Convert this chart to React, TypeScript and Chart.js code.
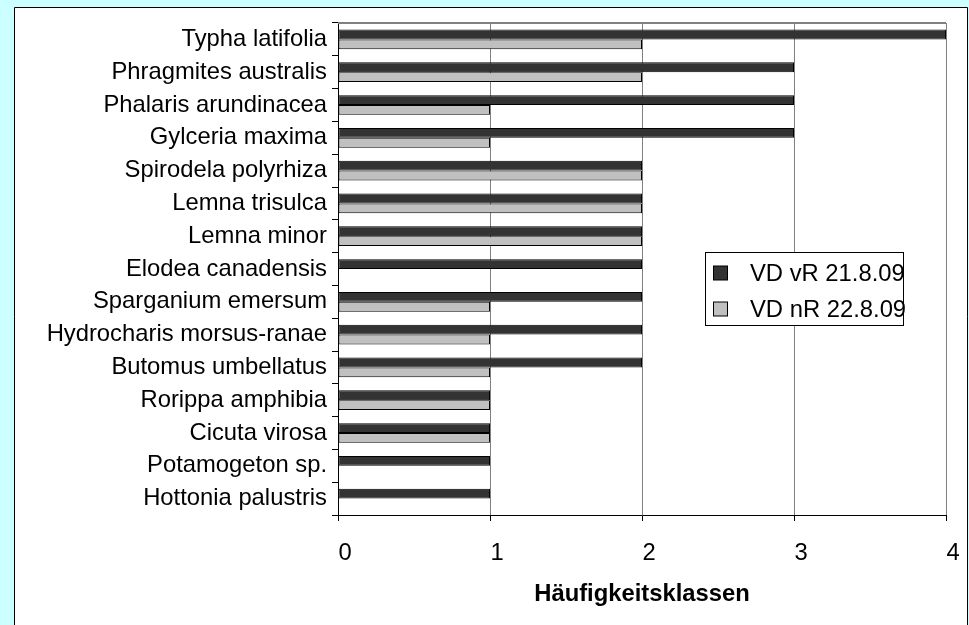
import React, { useEffect, useRef } from "react";
import { Chart, registerables } from "chart.js";

Chart.register(...registerables);

const categories = [
  "Typha latifolia",
  "Phragmites australis",
  "Phalaris arundinacea",
  "Gylceria maxima",
  "Spirodela polyrhiza",
  "Lemna trisulca",
  "Lemna minor",
  "Elodea canadensis",
  "Sparganium emersum",
  "Hydrocharis morsus-ranae",
  "Butomus umbellatus",
  "Rorippa amphibia",
  "Cicuta virosa",
  "Potamogeton sp.",
  "Hottonia palustris",
];

const seriesVR = [4, 3, 3, 3, 2, 2, 2, 2, 2, 2, 2, 1, 1, 1, 1];
const seriesNR = [2, 2, 1, 1, 2, 2, 2, 0, 1, 1, 1, 1, 1, 0, 0];

const seriesNames = ["VD vR 21.8.09", "VD nR 22.8.09"];
const xTitle = "Häufigkeitsklassen";

const FONT = "'Liberation Sans', Arial, sans-serif";
const FS = 23.8;

const backgroundPlugin = {
  id: "bgPanel",
  beforeDraw(chart: any) {
    const { ctx, width, height } = chart;
    ctx.save();
    ctx.fillStyle = "#CCFFFF";
    ctx.fillRect(0, 0, width, height);
    ctx.fillStyle = "#FFFFFF";
    ctx.fillRect(14, 7, 954, height);
    ctx.strokeStyle = "#000000";
    ctx.lineWidth = 1;
    ctx.beginPath();
    ctx.moveTo(14.5, height + 2);
    ctx.lineTo(14.5, 7.5);
    ctx.lineTo(967.5, 7.5);
    ctx.lineTo(967.5, height + 2);
    ctx.stroke();
    ctx.restore();
  },
  beforeDatasetsDraw(chart: any) {
    const { ctx, chartArea } = chart;
    ctx.save();
    ctx.strokeStyle = "#808080";
    ctx.lineWidth = 2;
    ctx.beginPath();
    ctx.moveTo(chartArea.left, Math.round(chartArea.top));
    ctx.lineTo(chartArea.right, Math.round(chartArea.top));
    ctx.stroke();
    ctx.restore();
  },
};

const legendPlugin = {
  id: "boxLegend",
  afterDraw(chart: any) {
    const { ctx } = chart;
    const bx = 705.5;
    const by = 252.5;
    const bw = 198;
    const bh = 73;
    ctx.save();
    ctx.fillStyle = "#FFFFFF";
    ctx.strokeStyle = "#000000";
    ctx.lineWidth = 1;
    ctx.fillRect(bx, by, bw, bh);
    ctx.strokeRect(bx, by, bw, bh);
    chart.data.datasets.forEach((ds: any, i: number) => {
      const cy = 273 + i * 36;
      ctx.fillStyle = ds.backgroundColor;
      ctx.fillRect(713.5, cy - 7, 14, 14);
      ctx.strokeStyle = "#000000";
      ctx.strokeRect(713.5, cy - 7, 14, 14);
      ctx.fillStyle = "#000000";
      ctx.font = `${FS}px ${FONT}`;
      ctx.textBaseline = "middle";
      ctx.textAlign = "left";
      ctx.fillText(ds.label, 750, cy + 1);
    });
    ctx.restore();
  },
};

export default function App() {
  const ref = useRef<HTMLCanvasElement | null>(null);

  useEffect(() => {
    if (!ref.current) return;
    const chart = new Chart(ref.current, {
      type: "bar",
      data: {
        labels: categories,
        datasets: [
          {
            label: seriesNames[0],
            data: seriesVR,
            backgroundColor: "#333333",
            borderColor: "#000000",
            borderWidth: 1,
            borderSkipped: false,
            barPercentage: 1,
            categoryPercentage: 0.6,
          },
          {
            label: seriesNames[1],
            data: seriesNR,
            backgroundColor: "#C0C0C0",
            borderColor: "#000000",
            borderWidth: 1,
            borderSkipped: false,
            barPercentage: 1,
            categoryPercentage: 0.6,
          },
        ],
      },
      options: {
        indexAxis: "y",
        animation: false,
        responsive: false,
        maintainAspectRatio: false,
        layout: { padding: { left: 0, top: 23, right: 23, bottom: 0 } },
        plugins: {
          legend: { display: false },
          tooltip: { enabled: false },
        },
        scales: {
          x: {
            type: "linear",
            min: 0,
            max: 4,
            afterFit(scale: any) {
              scale.height = 110;
              scale.paddingLeft = 0;
              scale.paddingRight = 0;
            },
            ticks: {
              stepSize: 1,
              color: "#000000",
              font: { family: FONT, size: FS },
              padding: 18,
              labelOffset: 7,
            },
            grid: {
              color: (c: any) => (c.tick && c.tick.value === 0 ? "#000000" : "#808080"),
              tickColor: "#000000",
              tickLength: 6,
              lineWidth: 1,
            },
            border: { color: "#000000", width: 1 },
            title: {
              display: true,
              text: xTitle,
              color: "#000000",
              font: { family: FONT, size: FS, weight: "bold" },
              padding: { top: 0, bottom: 16 },
            },
          },
          y: {
            type: "category",
            afterFit(scale: any) {
              scale.width = 338;
              scale.paddingTop = 0;
              scale.paddingBottom = 0;
            },
            ticks: {
              color: "#000000",
              font: { family: FONT, size: FS },
              padding: 5,
              autoSkip: false,
            },
            grid: {
              drawOnChartArea: false,
              offset: true,
              tickLength: 6,
              color: "#000000",
              tickColor: "#000000",
            },
            border: { color: "#000000", width: 1 },
          },
        },
      },
      plugins: [backgroundPlugin, legendPlugin],
    } as any);
    return () => chart.destroy();
  }, []);

  return (
    <div style={{ position: "fixed", left: 0, top: 0, width: 969, height: 625 }}>
      <canvas ref={ref} width={969} height={625} style={{ display: "block", width: 969, height: 625 }} />
    </div>
  );
}
